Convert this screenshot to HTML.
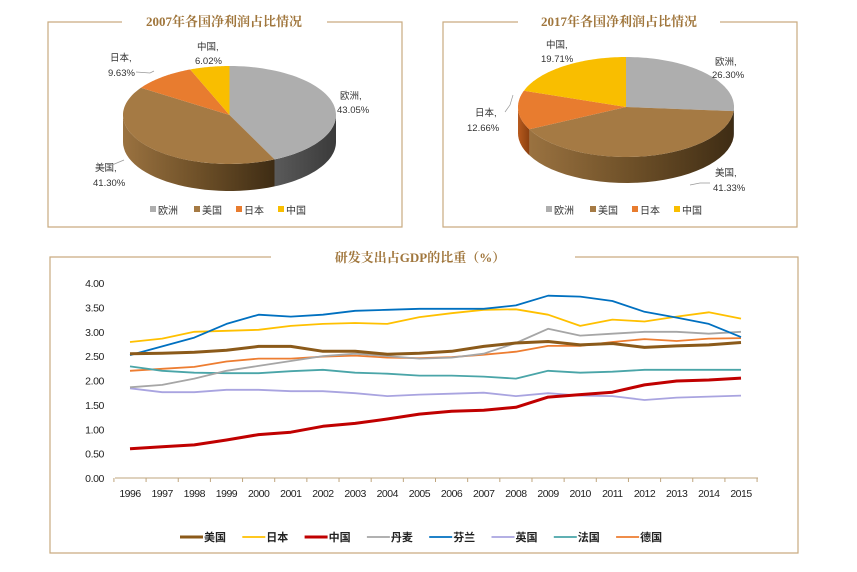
<!DOCTYPE html>
<html><head><meta charset="utf-8">
<style>
html,body{margin:0;padding:0;background:#fff;}
svg{display:block;font-family:"Liberation Sans","Noto Sans CJK SC",sans-serif;}
</style></head>
<body>
<svg id="s" width="857" height="572" viewBox="0 0 857 572" xmlns="http://www.w3.org/2000/svg">
<defs>
<linearGradient id="gb" x1="0" x2="1" y1="0" y2="0">
<stop offset="0" stop-color="#9a7240"/><stop offset="0.5" stop-color="#6e5028"/><stop offset="1" stop-color="#3e2c14"/></linearGradient>
<linearGradient id="gg" x1="0" x2="1"><stop offset="0" stop-color="#5a5a5a"/><stop offset="1" stop-color="#3a3a3a"/></linearGradient>
<linearGradient id="go" x1="0" x2="1"><stop offset="0" stop-color="#b85a1e"/><stop offset="1" stop-color="#8a4010"/></linearGradient>
<linearGradient id="gy" x1="0" x2="1"><stop offset="0" stop-color="#c09000"/><stop offset="1" stop-color="#8a6a00"/></linearGradient>
</defs>
<g stroke="#c9ab80" stroke-width="1.2" fill="none">
<polyline points="122,22 48,22 48,227 402,227 402,22 327,22"/>
<polyline points="518,22 443,22 443,227 797,227 797,22 720,22"/>
<polyline points="271,257 50,257 50,553 798,553 798,257 575,257"/>
</g>
<g font-family="'Liberation Serif','Noto Serif CJK SC',serif" font-weight="bold" fill="#a0763c" font-size="13" text-anchor="middle">
<text x="224" y="26">2007年各国净利润占比情况</text>
<text x="619" y="26">2017年各国净利润占比情况</text>
<text x="420" y="262">研发支出占GDP的比重（%）</text>
</g>
<g id="pies"></g>
<g font-size="9.5" fill="#333">
<text x="197" y="50">中国,</text><text x="195" y="64">6.02%</text>
<text x="110" y="61">日本,</text><text x="108" y="76">9.63%</text>
<text x="340" y="99">欧洲,</text><text x="337" y="113">43.05%</text>
<text x="95" y="171">美国,</text><text x="93" y="186">41.30%</text>
<text x="546" y="48">中国,</text><text x="541" y="62">19.71%</text>
<text x="715" y="65">欧洲,</text><text x="712" y="78">26.30%</text>
<text x="475" y="116">日本,</text><text x="467" y="131">12.66%</text>
<text x="715" y="176">美国,</text><text x="713" y="191">41.33%</text>
</g>
<g stroke="#999" stroke-width="0.7" fill="none">
<polyline points="136,72 150,73 154,71"/>
<polyline points="104,168 112,165 124,160"/>
<polyline points="505,112 510,105 513,95"/>
<polyline points="710,183 700,183 690,185"/>
</g>
<g font-size="10" fill="#333" id="leg1"></g>
<g id="line"></g>
</svg>
<script>
var NS="http://www.w3.org/2000/svg";
function el(p,t,a,txt){var e=document.createElementNS(NS,t);for(var k in a)e.setAttribute(k,a[k]);if(txt!=null)e.textContent=txt;p.appendChild(e);return e;}
var pies=document.getElementById('pies');
function pie(cx,cy,rx,ry,d,vals,cols,sides){
 function pt(a,dy){return [cx+rx*Math.sin(a),cy-ry*Math.cos(a)+(dy||0)];}
 var tot=0,angs=[0];vals.forEach(function(v){tot+=v;});
 var acc=0;vals.forEach(function(v){acc+=v;angs.push(acc/tot*2*Math.PI);});
 // sides
 for(var i=0;i<vals.length;i++){
  var a1=Math.max(angs[i],Math.PI/2),a2=Math.min(angs[i+1],3*Math.PI/2);
  if(a2<=a1)continue;
  var s="",n=30,p;
  for(var j=0;j<=n;j++){p=pt(a1+(a2-a1)*j/n);s+=(j?"L":"M")+p[0].toFixed(1)+","+p[1].toFixed(1);}
  for(var j=n;j>=0;j--){p=pt(a1+(a2-a1)*j/n,d);s+="L"+p[0].toFixed(1)+","+p[1].toFixed(1);}
  el(pies,'path',{d:s+"Z",fill:sides[i]});
 }
 for(var i=0;i<vals.length;i++){
  var a1=angs[i],a2=angs[i+1],s="M"+cx+","+cy,n=60,p;
  for(var j=0;j<=n;j++){p=pt(a1+(a2-a1)*j/n);s+="L"+p[0].toFixed(1)+","+p[1].toFixed(1);}
  el(pies,'path',{d:s+"Z",fill:cols[i]});
 }
}
var cols=["#aeaeae","#a57a44","#e87c2f","#f9be00"],sides=["url(#gg)","url(#gb)","url(#go)","url(#gy)"];
pie(229.5,115,106.5,49,27,[43.05,41.30,9.63,6.02],cols,sides);
pie(626,107,108,50,26,[26.30,41.33,12.66,19.71],cols,sides);
var lg=document.getElementById('leg1');
[[150,245],[546,641]].forEach(function(b){
 var x=b[0],names=["欧洲","美国","日本","中国"],w=[44,42,42,40];
 for(var i=0;i<4;i++){el(lg,'rect',{x:x,y:206,width:6,height:6,fill:cols[i]});el(lg,'text',{x:x+8,y:214},names[i]);x+=w[i];}
});
// line chart
var L=document.getElementById('line');
var X0=130,DX=(741-130)/19,Y0=478,SY=48.75;
function Y(v){return Y0-v*SY;}
for(var i=0;i<=8;i++){var v=i*0.5;el(L,'text',{x:104,y:Y(v)+4,'font-size':10.5,'text-anchor':'end',fill:'#222','letter-spacing':'-0.4'},v.toFixed(2));}
el(L,'line',{x1:115,y1:478,x2:758,y2:478,stroke:'#bfa57e','stroke-width':1});
for(var i=0;i<=20;i++){var x=X0-DX/2+i*DX;el(L,'line',{x1:x,y1:478,x2:x,y2:482,stroke:'#bfa57e','stroke-width':1});}
for(var i=0;i<20;i++){el(L,'text',{x:X0+i*DX,y:497,'font-size':10.5,'text-anchor':'middle',fill:'#222','letter-spacing':'-0.5'},String(1996+i));}
var S=[
["德国","#ed7d31",1.8,[2.20,2.24,2.28,2.39,2.45,2.45,2.49,2.51,2.47,2.46,2.48,2.53,2.59,2.71,2.71,2.79,2.85,2.81,2.86,2.87]],
["法国","#4aa5a8",1.8,[2.29,2.20,2.16,2.15,2.15,2.19,2.22,2.16,2.14,2.10,2.10,2.08,2.04,2.20,2.16,2.18,2.22,2.22,2.22,2.22]],
["英国","#a9a4e0",1.8,[1.84,1.76,1.76,1.81,1.81,1.78,1.78,1.74,1.68,1.71,1.73,1.75,1.68,1.74,1.69,1.68,1.60,1.65,1.67,1.69]],
["丹麦","#a6a6a6",1.8,[1.86,1.91,2.04,2.20,2.30,2.40,2.50,2.55,2.50,2.45,2.47,2.55,2.77,3.06,2.92,2.96,3.00,3.00,2.96,3.00]],
["日本","#ffc000",1.8,[2.79,2.86,3.00,3.02,3.04,3.12,3.16,3.18,3.16,3.30,3.38,3.45,3.46,3.35,3.12,3.25,3.21,3.31,3.40,3.27]],
["芬兰","#0070c0",1.8,[2.52,2.70,2.88,3.16,3.35,3.31,3.35,3.43,3.45,3.47,3.47,3.47,3.54,3.74,3.72,3.63,3.41,3.29,3.16,2.89]],
["美国","#8b5a1a",3,[2.55,2.56,2.58,2.62,2.70,2.70,2.60,2.60,2.54,2.56,2.60,2.70,2.77,2.80,2.73,2.76,2.68,2.71,2.73,2.78]],
["中国","#c00000",3,[0.60,0.64,0.68,0.78,0.89,0.94,1.06,1.12,1.21,1.31,1.37,1.39,1.45,1.66,1.71,1.76,1.91,1.99,2.01,2.05]]
];
S.forEach(function(s){var pts=s[3].map(function(v,i){return (X0+i*DX).toFixed(1)+","+Y(v).toFixed(1);}).join(" ");
 el(L,'polyline',{points:pts,fill:'none',stroke:s[1],'stroke-width':s[2],'stroke-linejoin':'round'});});
var order=[["美国","#8b5a1a",3],["日本","#ffc000",1.8],["中国","#c00000",3],["丹麦","#a6a6a6",1.8],["芬兰","#0070c0",1.8],["英国","#a9a4e0",1.8],["法国","#4aa5a8",1.8],["德国","#ed7d31",1.8]];
order.forEach(function(o,i){var x=180+i*62.3;el(L,'line',{x1:x,y1:537,x2:x+23,y2:537,stroke:o[1],'stroke-width':o[2]});
 el(L,'text',{x:x+24,y:541,'font-size':11,'font-weight':'bold',fill:'#222'},o[0]);});
</script>
</body></html>
